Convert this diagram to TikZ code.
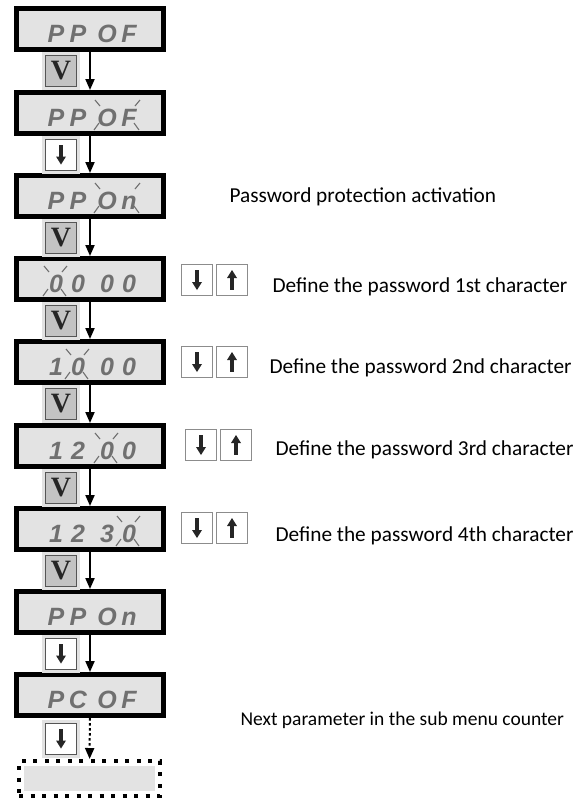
\documentclass[tikz,border=0pt]{standalone}
\usepackage{fontspec}
\usepackage{tikz}
\usetikzlibrary{positioning, arrows.meta, calc}
\usepackage{xcolor}
\setmainfont{Carlito}
\newfontfamily\segfont{Liberation Sans}
\newfontfamily\keyfont{Liberation Serif}
\definecolor{lcdgray}{RGB}{227, 227, 227}
\definecolor{segtext}{RGB}{112, 112, 112}
\definecolor{keygray}{RGB}{195, 195, 195}
\definecolor{keyring}{RGB}{226, 226, 226}
\definecolor{keyedge}{RGB}{85, 85, 85}

% four characters of the display, two pairs
\newcommand{\lcd}[4]{\raisebox{-13pt}[0pt][0pt]{\hspace{5pt}\makebox[22pt]{#1}\makebox[22pt]{#2}\hspace{7pt}\makebox[22pt]{#3}\makebox[22pt]{#4}}}
% blinking marks: left x, right x, centre y
\newcommand{\blink}[3]{%
  \draw[blinkmark] ({#1-5},{#3-13}) -- ({#1},{#3-7});
  \draw[blinkmark] ({#2-1},{#3-7}) -- ({#2+4},{#3-13});
  \draw[blinkmark] ({#1-6},{#3+17}) -- ({#1-1},{#3+10});
  \draw[blinkmark] ({#2-2},{#3+10}) -- ({#2+3},{#3+17});}
% arrow glyph in a key: node, 1 = down, -1 = up
\newcommand{\keyarrow}[2]{%
  \fill[black!85] ($(#1)+(-1.8,{-10*#2})$) rectangle ($(#1)+(1.8,{2*#2})$);
  \fill[black!85] ($(#1)+(-5,{2*#2})$) -- ($(#1)+(5,{2*#2})$) -- ($(#1)+(0,{10*#2})$) -- cycle;}

\begin{document}
\begin{tikzpicture}[x=1pt, y=-1pt, >=Stealth,
    lcd/.style={draw=black, line width=5pt, fill=lcdgray, minimum width=147pt, minimum height=41pt, inner sep=0pt,
      font=\segfont\bfseries\itshape\fontsize{25}{25}\selectfont, text=segtext},
    keybox/.style={draw=keyedge, line width=1pt, minimum size=31pt, inner sep=0pt},
    ringkey/.style={keybox, preaction={draw=keyring, line width=7pt}},
    vkey/.style={ringkey, fill=keygray, font=\keyfont\bfseries\fontsize{28}{28}\selectfont, text=black!85},
    dkey/.style={ringkey, fill=white},
    pkey/.style={keybox, fill=white, draw=black!45},
    flow/.style={line width=2pt, -{Triangle[length=11pt, width=9pt]}},
    note/.style={anchor=base west, font=\fontsize{21.3}{26}\selectfont},
    blinkmark/.style={draw=segtext, line width=1.1pt}]
  \useasboundingbox (0,0) rectangle (582,798);

  % displays
  \node[lcd] (d1) at (90,29) {\lcd{P}{P}{O}{F}};
  \node[lcd] (d2) at (90,113) {\lcd{P}{P}{O}{F}};
  \node[lcd] (d3) at (90,196) {\lcd{P}{P}{O}{n}};
  \node[lcd] (d4) at (90,279) {\lcd{0}{0}{0}{0}};
  \node[lcd] (d5) at (90,362) {\lcd{1}{0}{0}{0}};
  \node[lcd] (d6) at (90,446) {\lcd{1}{2}{0}{0}};
  \node[lcd] (d7) at (90,529) {\lcd{1}{2}{3}{0}};
  \node[lcd] (d8) at (90,612) {\lcd{P}{P}{O}{n}};
  \node[lcd] (d9) at (90,695) {\lcd{P}{C}{O}{F}};
  \node[draw=black, line width=4pt, dash pattern=on 4pt off 7.5pt, minimum width=141pt, minimum height=35pt, inner sep=0pt,
    path picture={\fill[lcdgray] ($(path picture bounding box.south west)+(5,-5)$) rectangle ($(path picture bounding box.north east)+(-5,5)$);}]
    (nx) at (89.5,778.5) {};

  \blink{100}{136}{113}
  \blink{100}{136}{196}
  \blink{49}{63}{279}
  \blink{71}{85}{362}
  \blink{100}{114}{446}
  \blink{122}{136}{529}

  % keys beside the flow
  \node[vkey] (k1) at (61,71) {V};
  \node[dkey] (k2) at (61,154.5) {};
  \node[vkey] (k3) at (61,237.5) {V};
  \node[vkey] (k4) at (61,320.5) {V};
  \node[vkey] (k5) at (61,404) {V};
  \node[vkey] (k6) at (61,487.5) {V};
  \node[vkey] (k7) at (61,570.5) {V};
  \node[dkey] (k8) at (61,653.5) {};
  \node[dkey] (k9) at (61,738.5) {};
  \keyarrow{k2}{1}
  \keyarrow{k8}{1}
  \keyarrow{k9}{1}

  \foreach \a/\b in {d1/d2, d2/d3, d3/d4, d4/d5, d5/d6, d6/d7, d7/d8, d8/d9}
    \draw[flow] (\a) -- (\b);
  \draw[flow, dash pattern=on 2.5pt off 2.5pt] (d9) -- (nx);

  % down / up keys
  \node[pkey] (a4) at (197,280) {};
  \node[pkey, right=3pt of a4] (b4) {};
  \node[pkey] (a5) at (197,362) {};
  \node[pkey, right=3pt of a5] (b5) {};
  \node[pkey] (a6) at (201,445) {};
  \node[pkey, right=3pt of a6] (b6) {};
  \node[pkey] (a7) at (197,528) {};
  \node[pkey, right=3pt of a7] (b7) {};
  \foreach \n in {4,5,6,7} {
    \keyarrow{a\n}{1}
    \keyarrow{b\n}{-1}
  }

  \node[note] (t3) at (226,202) {Password protection activation};
  \node[note] (t4) at (269,292) {Define the password 1st character};
  \node[note] (t5) at (266,373) {Define the password 2nd character};
  \node[note] (t6) at (272,455) {Define the password 3rd character};
  \node[note] (t7) at (272,541) {Define the password 4th character};
  \node[note, font=\fontsize{19.5}{24}\selectfont] (t9) at (237,725) {Next parameter in the sub menu counter};
\end{tikzpicture}
\end{document}
